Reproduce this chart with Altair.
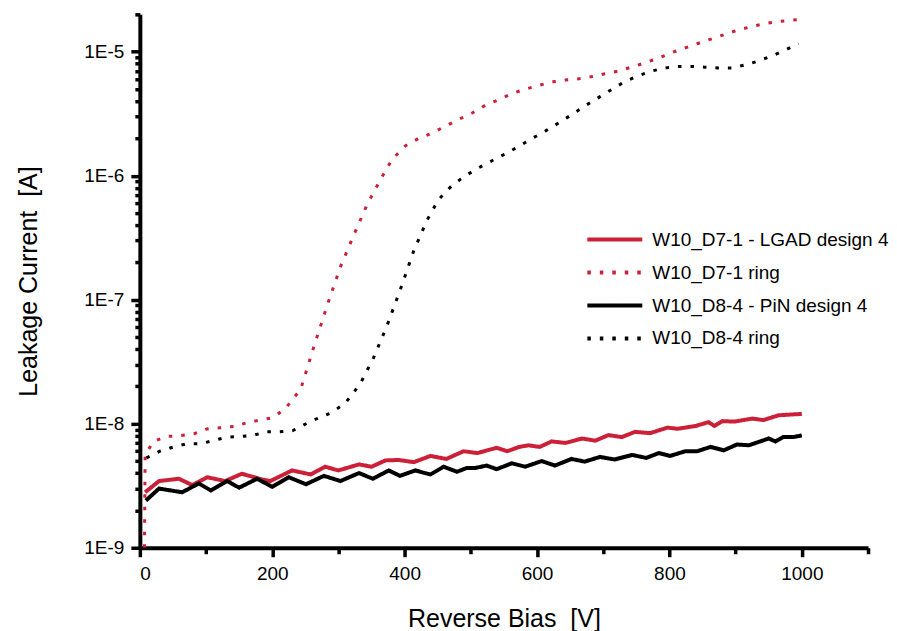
import altair as alt
import pandas as pd

series_names = [
    "W10_D7-1 - LGAD design 4",
    "W10_D7-1 ring",
    "W10_D8-4 - PiN design 4",
    "W10_D8-4 ring",
]
series_colors = ["#CC2038", "#CC2038", "#000000", "#000000"]
series_dashes = [[1, 0], [3.5, 9], [1, 0], [3.5, 9]]

# W10_D7-1 - LGAD design 4 (red solid)
lgad_v = [8, 29, 59, 79, 102, 129, 154, 185, 197, 230, 258, 280, 300, 331, 350, 371, 391, 414,
          439, 463, 489, 510, 539, 555, 573, 587, 604, 622, 643, 668, 688, 708, 728, 748, 771,
          797, 812, 840, 859, 868, 880, 898, 925, 942, 965, 1000]
lgad_i = [2.8e-9, 3.45e-9, 3.6e-9, 3.2e-9, 3.7e-9, 3.45e-9, 3.95e-9, 3.55e-9, 3.45e-9, 4.2e-9,
          3.9e-9, 4.5e-9, 4.2e-9, 4.7e-9, 4.5e-9, 5.06e-9, 5.1e-9, 4.9e-9, 5.5e-9, 5.2e-9, 6.0e-9,
          5.8e-9, 6.4e-9, 6.0e-9, 6.5e-9, 6.7e-9, 6.5e-9, 7.2e-9, 7.0e-9, 7.6e-9, 7.3e-9, 8.1e-9,
          7.8e-9, 8.6e-9, 8.4e-9, 9.3e-9, 9.1e-9, 9.6e-9, 1.03e-8, 9.6e-9, 1.05e-8, 1.04e-8,
          1.1e-8, 1.07e-8, 1.17e-8, 1.2e-8]

# W10_D7-1 ring (red dotted)
lring_v = [7, 8, 21, 41, 61, 82, 102, 122, 142, 162, 181, 201, 220, 243, 263, 283, 303, 323, 343,
           363, 381, 401, 421, 441, 461, 482, 502, 522, 542, 562, 583, 603, 622, 643, 663, 683,
           703, 724, 742, 764, 784, 803, 823, 844, 864, 884, 903, 923, 943, 963, 983, 1000]
lring_i = [1.0e-9, 5.65e-9, 7.2e-9, 7.9e-9, 8.0e-9, 8.3e-9, 9.1e-9, 9.3e-9, 9.5e-9, 1.02e-8,
           1.07e-8, 1.12e-8, 1.33e-8, 1.9e-8, 4.2e-8, 9.0e-8, 1.84e-7, 3.3e-7, 5.8e-7, 9.2e-7,
           1.35e-6, 1.74e-6, 2.0e-6, 2.2e-6, 2.5e-6, 2.85e-6, 3.2e-6, 3.7e-6, 4.1e-6, 4.6e-6,
           5.0e-6, 5.35e-6, 5.7e-6, 5.9e-6, 6.05e-6, 6.3e-6, 6.65e-6, 7.0e-6, 7.5e-6, 8.15e-6,
           8.9e-6, 9.8e-6, 1.07e-5, 1.17e-5, 1.27e-5, 1.38e-5, 1.49e-5, 1.59e-5, 1.68e-5, 1.75e-5,
           1.79e-5, 1.82e-5]

# W10_D8-4 - PiN design 4 (black solid)
pin_v = [9, 29, 64, 89, 107, 132, 150, 177, 200, 225, 251, 278, 303, 331, 352, 376, 393, 416, 439,
         459, 479, 494, 507, 524, 539, 562, 582, 607, 627, 652, 672, 695, 717, 744, 765, 784, 801,
         824, 842, 862, 882, 902, 920, 950, 960, 972, 987, 1000]
pin_i = [2.4e-9, 3.0e-9, 2.8e-9, 3.3e-9, 2.9e-9, 3.45e-9, 3.05e-9, 3.6e-9, 3.1e-9, 3.7e-9, 3.25e-9,
         3.8e-9, 3.45e-9, 4.0e-9, 3.6e-9, 4.2e-9, 3.8e-9, 4.2e-9, 3.9e-9, 4.5e-9, 4.1e-9, 4.4e-9,
         4.4e-9, 4.6e-9, 4.3e-9, 4.8e-9, 4.5e-9, 5.0e-9, 4.6e-9, 5.2e-9, 4.95e-9, 5.4e-9, 5.15e-9,
         5.6e-9, 5.3e-9, 5.8e-9, 5.5e-9, 6.0e-9, 6.0e-9, 6.5e-9, 6.1e-9, 6.8e-9, 6.7e-9, 7.6e-9,
         7.2e-9, 7.8e-9, 7.8e-9, 8.05e-9]

# W10_D8-4 ring (black dotted)
pring_v = [10, 30, 51, 71, 92, 112, 132, 152, 171, 191, 211, 231, 251, 271, 290, 311, 333, 353,
           373, 394, 414, 434, 451, 472, 492, 512, 532, 552, 572, 592, 613, 633, 653, 673, 694,
           714, 733, 753, 774, 794, 814, 834, 854, 874, 894, 914, 934, 954, 975, 995]
pring_i = [5.3e-9, 6.0e-9, 6.5e-9, 6.9e-9, 6.9e-9, 7.35e-9, 7.8e-9, 7.9e-9, 8.05e-9, 8.6e-9,
           8.6e-9, 8.8e-9, 1.0e-8, 1.12e-8, 1.23e-8, 1.48e-8, 2.1e-8, 3.4e-8, 6.1e-8, 1.23e-7,
           2.5e-7, 4.4e-7, 6.4e-7, 8.4e-7, 1.0e-6, 1.16e-6, 1.32e-6, 1.5e-6, 1.72e-6, 1.99e-6,
           2.3e-6, 2.67e-6, 3.12e-6, 3.67e-6, 4.3e-6, 5.0e-6, 5.75e-6, 6.4e-6, 7.0e-6, 7.4e-6,
           7.6e-6, 7.6e-6, 7.5e-6, 7.4e-6, 7.4e-6, 7.8e-6, 8.4e-6, 9.2e-6, 1.03e-5, 1.16e-5]

x_ticks = [0, 100, 200, 300, 400, 500, 600, 700, 800, 900, 1000, 1100]
y_ticks = [m * 10.0 ** e for e in range(-9, -4) for m in range(1, 10)] + [2e-5]

rows = []
for name, vs, cs in zip(series_names, [lgad_v, lring_v, pin_v, pring_v],
                        [lgad_i, lring_i, pin_i, pring_i]):
    for v, c in zip(vs, cs):
        rows.append({"series": name, "V": v, "I": c})
df = pd.DataFrame(rows)

FONT = "Liberation Sans, Arial, sans-serif"
is_major_y = "abs(log(datum.value)/LN10 - round(log(datum.value)/LN10)) < 0.01 && datum.value < 1.5e-5"
is_major_x = "datum.value % 200 == 0"

legend = alt.Legend(
    title=None,
    orient="none",
    legendX=446,
    legendY=216,
    symbolType="stroke",
    symbolSize=3025,
    symbolStrokeWidth=4,
    clipHeight=19,
    labelFontSize=19,
    labelFont=FONT,
    labelColor="black",
    labelOffset=8,
    rowPadding=13,
    labelLimit=400,
)

chart = alt.Chart(df).mark_line(clip=True, strokeCap="butt").encode(
    x=alt.X(
        "V:Q",
        scale=alt.Scale(domain=[0, 1100], nice=False, zero=False),
        axis=alt.Axis(
            title="Reverse Bias \u00a0[V]",
            values=x_ticks,
            format="d",
            labelExpr=f"({is_major_x}) ? datum.label : ''",
            tickSize={"condition": {"test": is_major_x, "value": 9}, "value": 6},
            labelPadding=8,
            titlePadding=23,
        ),
    ),
    y=alt.Y(
        "I:Q",
        scale=alt.Scale(type="log", domain=[1e-9, 2e-5], nice=False),
        axis=alt.Axis(
            title="Leakage Current \u00a0[A]",
            values=y_ticks,
            labelExpr=f"({is_major_y}) ? '1E' + round(log(datum.value)/LN10) : ''",
            tickSize={"condition": {"test": is_major_y, "value": 9}, "value": 5},
            labelPadding=7,
            titlePadding=42,
        ),
    ),
    color=alt.Color("series:N", scale=alt.Scale(domain=series_names, range=series_colors),
                    legend=legend),
    strokeDash=alt.StrokeDash("series:N", scale=alt.Scale(domain=series_names, range=series_dashes),
                              legend=legend),
    strokeWidth=alt.condition("indexof(datum.series, 'ring') >= 0", alt.value(3), alt.value(4)),
).properties(
    width=729,
    height=534,
    padding={"left": 8, "top": 4, "right": 0, "bottom": 0},
).configure_view(
    stroke=None,
).configure_axis(
    grid=False,
    domainColor="black",
    domainWidth=4,
    tickColor="black",
    tickWidth=3.5,
    labelFont=FONT,
    labelFontSize=19,
    labelColor="black",
    titleFont=FONT,
    titleFontSize=25,
    titleFontWeight="normal",
    titleColor="black",
)

chart.save("out.html", embed_options={"renderer": "svg", "actions": False})
